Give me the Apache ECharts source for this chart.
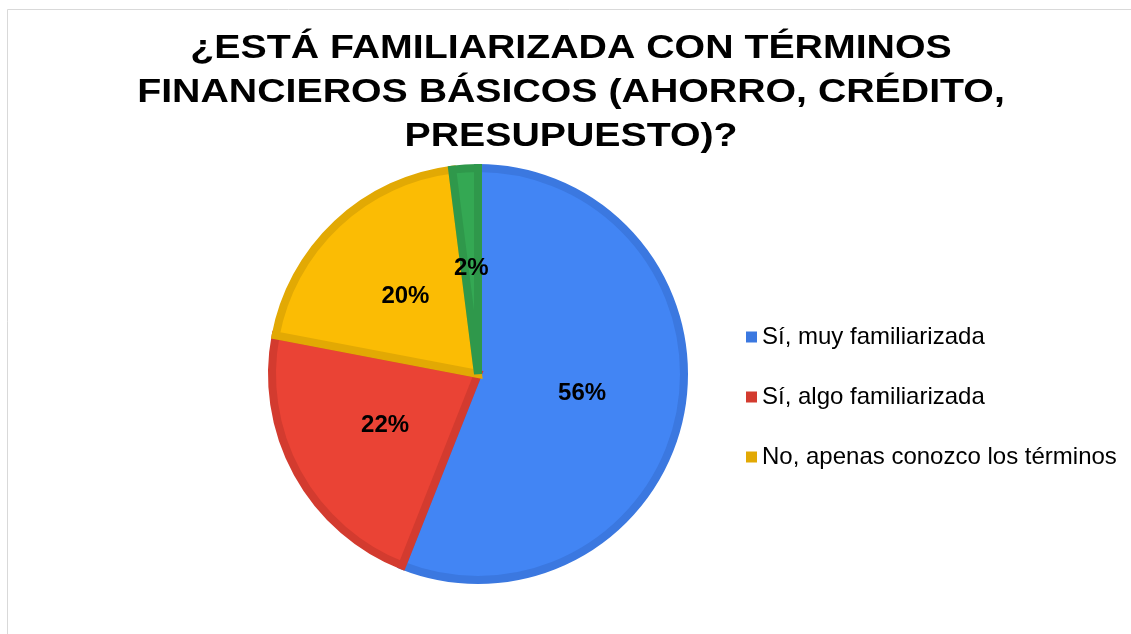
<!DOCTYPE html>
<html>
<head>
<meta charset="utf-8">
<script src="https://cdn.jsdelivr.net/npm/echarts@6/dist/echarts.min.js"></script>
<style>
  html, body { margin: 0; padding: 0; background: #fff; }
  #chart { width: 1131px; height: 634px; }
</style>
</head>
<body>
<div id="chart"></div>
<script>
(function() {
    const TITLE_LINES = ['¿ESTÁ FAMILIARIZADA CON TÉRMINOS', 'FINANCIEROS BÁSICOS (AHORRO, CRÉDITO,', 'PRESUPUESTO)?'];

    const categories = ['Sí, muy familiarizada', 'Sí, algo familiarizada', 'No, apenas conozco los términos', 'No, no conozco los términos'];
    const values = [56, 22, 20, 2];
    const legendNames = categories.slice(0, 3);

    const FILL = ['#4285f4', '#ea4335', '#fbbc04', '#34a853'];
    const EDGE = ['#3b78e0', '#d33b2f', '#e2a904', '#2f984b'];

    const myChart = echarts.init(document.getElementById('chart'));

    const pieData = categories.map((name, i) => ({
        name: name,
        value: values[i],
        itemStyle: { color: FILL[i], borderColor: EDGE[i] }
    }));

    // 标题文字在原图里被横向拉宽，用 graphic 文本加 scaleX 模拟
    const option = {
        animation: false,
        backgroundColor: '#fff',
        graphic: [
            { type: 'line', shape: { x1: 7.5, y1: 9.5, x2: 1131, y2: 9.5 }, style: { stroke: '#d9d9d9', lineWidth: 1 } },
            { type: 'line', shape: { x1: 7.5, y1: 9.5, x2: 7.5, y2: 634 }, style: { stroke: '#d9d9d9', lineWidth: 1 } },
            {
                type: 'text',
                x: 571,
                y: 27,
                scaleX: 1.19,
                style: {
                    text: TITLE_LINES.join('\n'),
                    align: 'center',
                    verticalAlign: 'top',
                    fontFamily: 'Liberation Sans, Arial, sans-serif',
                    fontWeight: 'bold',
                    fontSize: 33,
                    lineHeight: 44,
                    fill: '#000'
                }
            }
        ],
        legend: {
            orient: 'vertical',
            left: 746,
            top: 325,
            padding: 0,
            itemWidth: 11,
            itemHeight: 11,
            itemGap: 36,
            icon: 'rect',
            selectedMode: false,
            data: legendNames.map((n, i) => ({
                name: n,
                itemStyle: { color: EDGE[i], borderWidth: 0 }
            })),
            textStyle: {
                fontFamily: 'Liberation Sans, Arial, sans-serif',
                fontSize: 24,
                lineHeight: 24,
                color: '#000',
                padding: 0
            }
        },
        series: [
            {
                name: 'Respuestas',
                type: 'pie',
                center: [478, 374],
                radius: 206,
                startAngle: 90,
                clockwise: true,
                avoidLabelOverlap: false,
                itemStyle: { borderWidth: 8, borderJoin: 'miter' },
                label: {
                    show: true,
                    position: 'inside',
                    formatter: p => Math.round(p.value) + '%',
                    fontFamily: 'Liberation Sans, Arial, sans-serif',
                    fontWeight: 'bold',
                    fontSize: 24,
                    color: '#000'
                },
                labelLine: { show: false },
                emphasis: { disabled: true },
                data: pieData
            }
        ]
    };

    myChart.setOption(option);

    window.addEventListener('resize', () => {
        if (myChart) myChart.resize();
    });
})();
</script>
</body>
</html>
